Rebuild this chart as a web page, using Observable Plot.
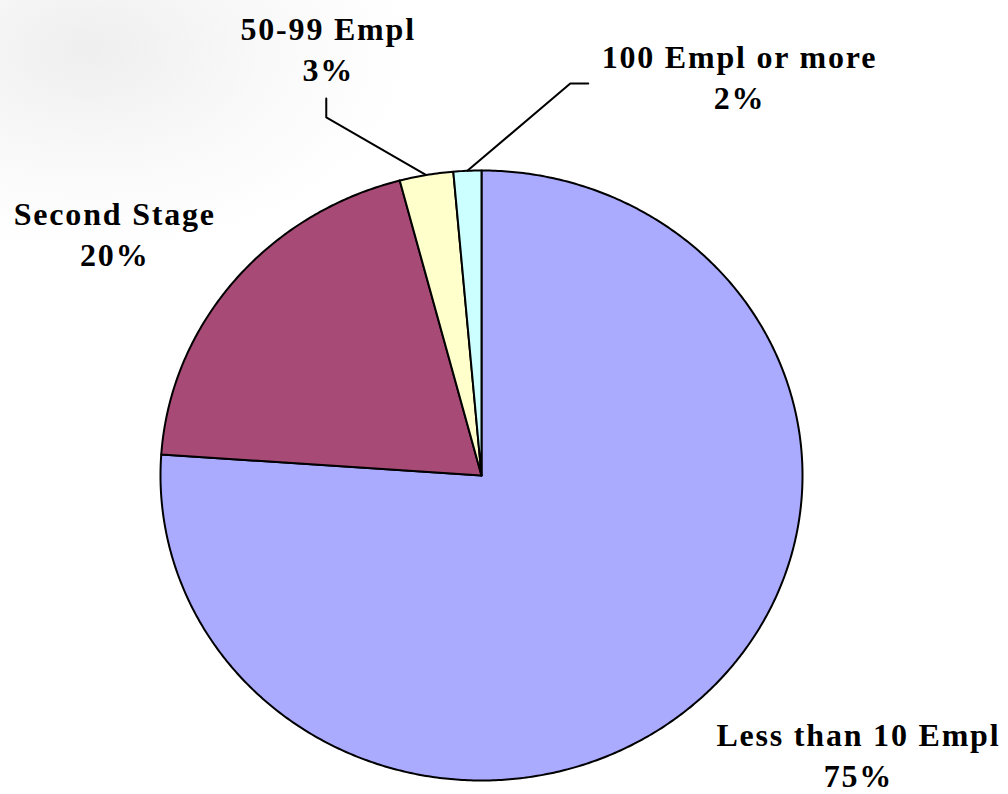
<!DOCTYPE html>
<html>
<head>
<meta charset="utf-8">
<script src="https://cdn.jsdelivr.net/npm/d3@7"></script>
<script src="https://cdn.jsdelivr.net/npm/@observablehq/plot@0.6"></script>
<style>
  html, body { margin: 0; padding: 0; }
  body {
    width: 1008px; height: 794px; overflow: hidden;
    background:
      radial-gradient(ellipse 320px 200px at 90px 50px, rgba(225,225,225,0.55), rgba(235,235,235,0.3) 55%, rgba(255,255,255,0) 100%),
      #ffffff;
  }
  #chart svg text { letter-spacing: 1.8px; }
</style>
</head>
<body>
<div id="chart"></div>
<script>
// ---- data ----
const categories = ["Less than 10 Empl", "Second Stage", "50-99 Empl", "100 Empl or more"];
const shares = [76.1, 19.8, 2.7, 1.4];          // slice sizes
const pctLabels = ["75%", "20%", "3%", "2%"];     // printed percentages
const colors = ["#AAAAFF", "#A84A76", "#FFFFCC", "#CCFFFF"];

// ---- layout (pixel geometry of the pie: slightly elliptical) ----
const W = 1008, H = 794;
const CX = 481, CY = 475, RX = 321, RY = 305;
// label placement: polar position around the centre (deg clockwise from 12 o'clock, radius in pie radii)
const labelPolar = [
  {deg: 127.8, r: 1.486},
  {deg: 304.9, r: 1.393},
  {deg: 341.2, r: 1.482},
  {deg: 31.5,  r: 1.538}
];
// leader lines: [end near label, elbow] as offsets from the label anchor (in pie radii)
const leaderOffsets = [
  null,
  null,
  [[-0.006, -0.167], [-0.006, -0.229]],
  [[-0.471, -0.026], [-0.527, -0.026]]
];

const polar = (deg, r) => [r * Math.sin(deg * Math.PI / 180), r * Math.cos(deg * Math.PI / 180)];

// slices, clockwise from 12 o'clock
const total = d3.sum(shares);
let acc = 0;
const slices = categories.map((name, i) => {
  const a0 = acc / total * 360;
  acc += shares[i];
  const a1 = acc / total * 360;
  return {name, a0, a1, mid: (a0 + a1) / 2, i};
});

const polyPts = [];
for (const s of slices) {
  const n = Math.max(4, Math.ceil((s.a1 - s.a0) / 0.5));
  polyPts.push({name: s.name, x: 0, y: 0});
  for (let k = 0; k <= n; k++) {
    const [x, y] = polar(s.a0 + (s.a1 - s.a0) * k / n, 1);
    polyPts.push({name: s.name, x, y});
  }
  polyPts.push({name: s.name, x: 0, y: 0});
}

const labels = slices.map((s, i) => {
  const [x, y] = polar(labelPolar[i].deg, labelPolar[i].r);
  return {x, y, text: categories[i] + "\n" + pctLabels[i]};
});

const leaders = [];
slices.forEach((s, i) => {
  if (!leaderOffsets[i]) return;
  const [ax, ay] = polar(s.mid, 1);
  const L = labels[i];
  leaders.push({k: i, x: ax, y: ay});
  leaders.push({k: i, x: L.x + leaderOffsets[i][1][0], y: L.y + leaderOffsets[i][1][1]});
  leaders.push({k: i, x: L.x + leaderOffsets[i][0][0], y: L.y + leaderOffsets[i][0][1]});
});

const chart = Plot.plot({
  width: W,
  height: H,
  margin: 0,
  style: {background: "transparent", overflow: "visible"},
  x: {domain: [-CX / RX, (W - CX) / RX], axis: null},
  y: {domain: [-(H - CY) / RY, CY / RY], axis: null},
  color: {domain: categories, range: colors},
  marks: [
    Plot.line(polyPts, {x: "x", y: "y", z: "name", fill: "name", stroke: "black", strokeWidth: 2, strokeLinejoin: "round", curve: "linear"}),
    Plot.line(leaders, {x: "x", y: "y", z: "k", stroke: "black", strokeWidth: 2}),
    Plot.text(labels, {
      x: "x", y: "y", text: "text",
      fontFamily: "Liberation Serif, Times New Roman, serif",
      fontWeight: "bold",
      fontSize: 32,
      lineHeight: 1.28,
      fill: "black",
      textAnchor: "middle",
      lineAnchor: "middle"
    })
  ]
});
document.getElementById("chart").appendChild(chart);
</script>
</body>
</html>
